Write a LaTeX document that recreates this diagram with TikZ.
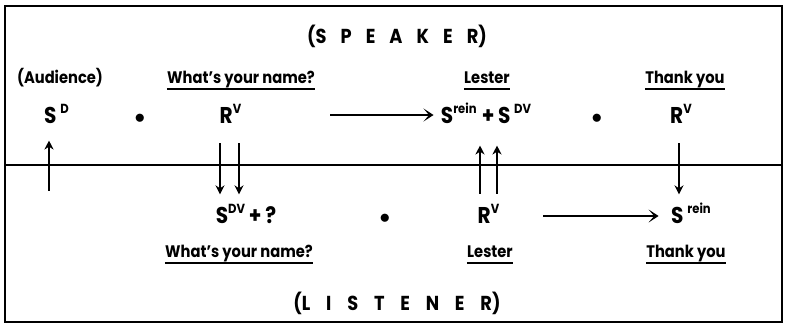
\documentclass[tikz,border=0pt]{standalone}
\usepackage{fontspec}
\setmainfont{Poppins}[FakeStretch=0.88]
\usetikzlibrary{arrows.meta,positioning}

\newcommand{\hi}[1]{\raisebox{5.5pt}{\fontsize{7.5}{8}\selectfont #1}}
\newlength{\gapw}
\setlength{\gapw}{8pt}
\newcommand{\gap}{\hspace{\gapw}}

\begin{document}
\begin{tikzpicture}[>={Stealth[length=1.8mm,width=1.8mm]}, inner sep=0pt,
	sym/.style={font=\bfseries\fontsize{13}{15}\selectfont, anchor=base},
	lbl/.style={font=\bfseries\fontsize{9.5}{11}\selectfont, anchor=base},
	head/.style={font=\bfseries\fontsize{11.5}{13}\selectfont, anchor=base},
	ul/.style={line width=1.1pt},
	flow/.style={-{Stealth[length=2mm,width=2.6mm,inset=1.1mm]}, line width=1pt},
	link/.style={->, line width=1pt}]
	\useasboundingbox (0,0) rectangle (15.78,-6.54);
	% frame and divider
	\draw[line width=1.5pt] (0.1,-0.12) rectangle (15.64,-6.44);
	\draw[line width=1pt] (0.1,-3.3) -- (15.64,-3.3);
	\node[head] (spk) at (7.94,-0.86) {(S\gap P\gap E\gap A\gap K\gap E\gap R)};
	\node[head] (lst) at (7.94,-6.20) {\setlength{\gapw}{9pt}(L\gap I\gap S\gap T\gap E\gap N\gap E\gap R)};
	% speaker row
	\node[lbl] (aud) at (1.20,-1.66) {(Audience)};
	\node[lbl] (q1) at (4.82,-1.66) {What's your name?};
	\node[lbl] (les1) at (9.74,-1.66) {Lester};
	\node[lbl] (thx1) at (13.70,-1.66) {Thank you};
	\node[sym] (sd) at (1.13,-2.46) {S\,\hi{D}};
	\node[sym] (dot1) at (2.80,-2.46) {$\bullet$};
	\node[sym] (rv1) at (4.61,-2.46) {R\hi{V}};
	\node[sym] (sr1) at (9.72,-2.46) {S\hi{rein}\hspace{3pt}+\hspace{2pt}S\,\hi{DV}};
	\node[sym] (dot2) at (11.94,-2.46) {$\bullet$};
	\node[sym] (rv2) at (13.62,-2.46) {R\hi{V}};
	% listener row
	\node[sym] (sdv) at (4.92,-4.46) {S\hi{DV}\,+\,?};
	\node[sym] (dot3) at (7.70,-4.46) {$\bullet$};
	\node[sym] (rv3) at (9.77,-4.46) {R\hi{V}};
	\node[sym] (sr2) at (13.82,-4.46) {S\,\hi{rein}};
	\node[lbl] (q2) at (4.78,-5.14) {What's your name?};
	\node[lbl] (les2) at (9.80,-5.14) {Lester};
	\node[lbl] (thx2) at (13.72,-5.14) {Thank you};
	% underlines
	\foreach \n in {q1, les1, thx1, q2, les2, thx2} {
		\draw[ul] ([yshift=-3.4pt]\n.base west) -- ([yshift=-3.4pt]\n.base east);
	}
	% horizontal arrows
	\coordinate (h1) at (6.60,-2.30);
	\draw[flow, shorten >=4pt] (h1) -- (h1 -| sr1.west);
	\coordinate (h2) at (10.86,-4.32);
	\draw[flow, shorten >=7pt] (h2) -- (h2 -| sr2.west);
	% vertical arrows
	\draw[link] ([xshift=-0.15cm]sd.south) ++(0,-1.34) -- ++(0,1.0);
	\foreach \dx in {-0.21, 0.17} {
		\draw[link] ([xshift=\dx cm]rv1.south) ++(0,-0.40) -- ++(0,-1.02);
	}
	\foreach \dx in {-0.12, 0.22} {
		\draw[link] ([xshift=\dx cm]sr1.south) ++(0,-1.40) -- ++(0,0.96);
	}
	\draw[link] ([xshift=-0.04cm]rv2.south) ++(0,-0.40) -- ++(0,-1.02);
\end{tikzpicture}
\end{document}
